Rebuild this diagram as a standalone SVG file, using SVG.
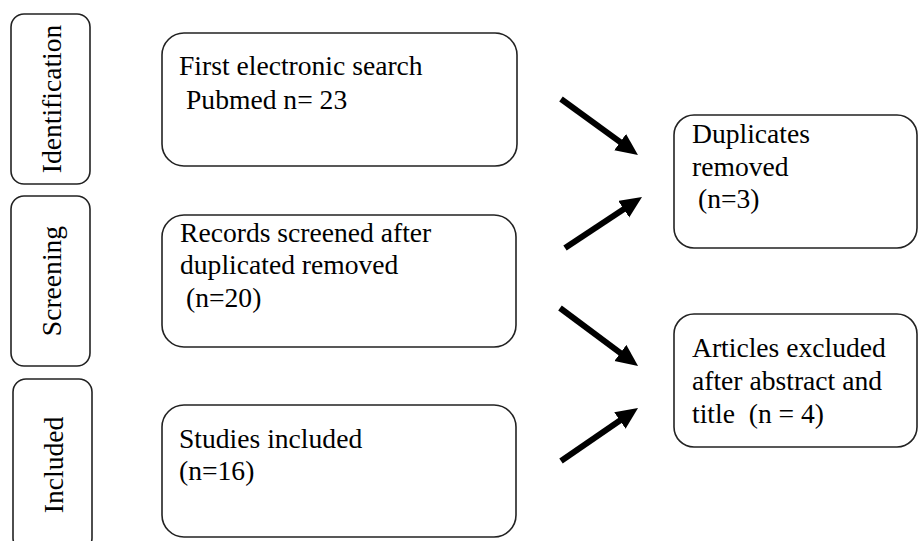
<svg xmlns="http://www.w3.org/2000/svg" width="918" height="541" viewBox="0 0 918 541">
<style>
.box{fill:#fff;stroke:#222;stroke-width:1.6}
.t{font-family:"Liberation Serif","Times New Roman",Times,serif;font-size:27.6px;fill:#000}
.arr{stroke:#000;stroke-width:6;fill:none}
</style>
<defs>
<marker id="ah" markerUnits="userSpaceOnUse" markerWidth="24" markerHeight="22" refX="4" refY="10" orient="auto">
<path d="M0,0 L22,10 L0,20 z" fill="#000"/>
</marker>
</defs>
<rect width="918" height="541" fill="#fff"/>
<g id="stage-identification">
<rect class="box" x="11" y="14" width="79" height="170" rx="13"/>
<text class="t" text-anchor="middle" transform="translate(61,99) rotate(-90)">Identification</text>
</g>
<g id="stage-screening">
<rect class="box" x="11" y="196" width="79" height="170" rx="13"/>
<text class="t" text-anchor="middle" transform="translate(61,281) rotate(-90)">Screening</text>
</g>
<g id="stage-included">
<rect class="box" x="13" y="379" width="79" height="172" rx="13"/>
<text class="t" text-anchor="middle" transform="translate(63,465) rotate(-90)">Included</text>
</g>
<g id="search">
<rect class="box" x="162" y="33" width="355" height="133" rx="22"/>
<text class="t" x="179" y="75">First electronic search</text>
<text class="t" x="186" y="109">Pubmed n= 23</text>
</g>
<g id="screened">
<rect class="box" x="162" y="215" width="354" height="132" rx="22"/>
<text class="t" x="180" y="242">Records screened after</text>
<text class="t" x="180" y="274">duplicated removed</text>
<text class="t" x="186" y="307">(n=20)</text>
</g>
<g id="included">
<rect class="box" x="162" y="405" width="354" height="132" rx="22"/>
<text class="t" x="179" y="448">Studies included</text>
<text class="t" x="179" y="480">(n=16)</text>
</g>
<g id="duplicates">
<rect class="box" x="674" y="115" width="243" height="133" rx="20"/>
<text class="t" x="692" y="143">Duplicates</text>
<text class="t" x="692" y="176">removed</text>
<text class="t" x="698" y="208">(n=3)</text>
</g>
<g id="excluded">
<rect class="box" x="674" y="314" width="243" height="133" rx="20"/>
<text class="t" x="692" y="357">Articles excluded</text>
<text class="t" x="692" y="390">after abstract and</text>
<text class="t" x="692" y="423" xml:space="preserve">title  (n = 4)</text>
</g>
<g id="connectors">
<line class="arr" x1="561" y1="99" x2="623.4" y2="144.4" marker-end="url(#ah)"/>
<line class="arr" x1="565" y1="248" x2="627" y2="206.9" marker-end="url(#ah)"/>
<line class="arr" x1="560" y1="308" x2="623.6" y2="355.3" marker-end="url(#ah)"/>
<line class="arr" x1="561" y1="461" x2="623.2" y2="418.2" marker-end="url(#ah)"/>
</g>
</svg>
